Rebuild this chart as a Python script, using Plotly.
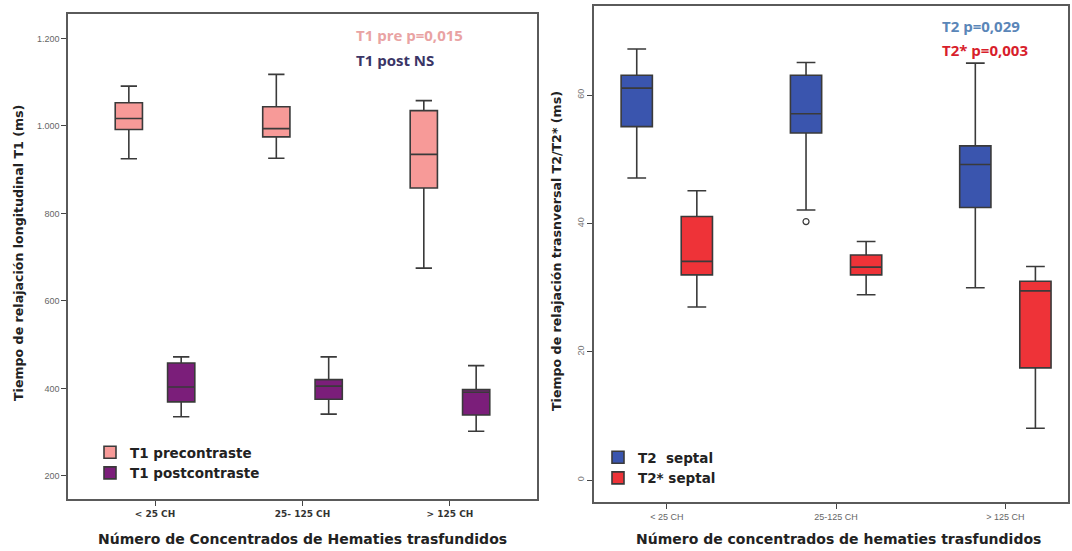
import plotly.graph_objects as go

# ---------------- data ----------------
cats_t1 = ["< 25 CH", "25- 125 CH", "> 125 CH"]
cats_t2 = ["< 25 CH", "25-125 CH", "> 125 CH"]

t1pre_low = [925, 926, 675]
t1pre_q1 = [992, 975, 858]
t1pre_med = [1017, 994, 935]
t1pre_q3 = [1053, 1044, 1035]
t1pre_high = [1091, 1118, 1058]

t1post_low = [335, 341, 302]
t1post_q1 = [369, 375, 339]
t1post_med = [403, 405, 391]
t1post_q3 = [458, 420, 397]
t1post_high = [472, 472, 452]

t2_low = [47.1, 42.1, 30.0]
t2_q1 = [55.1, 54.1, 42.5]
t2_med = [61.1, 57.1, 49.2]
t2_q3 = [63.1, 63.1, 52.1]
t2_high = [67.2, 65.1, 65.0]
t2_outliers = [[None], [40.3], [None]]

t2s_low = [27.0, 28.9, 8.1]
t2s_q1 = [32.0, 32.0, 17.5]
t2s_med = [34.1, 33.2, 29.5]
t2s_q3 = [41.1, 35.1, 31.0]
t2s_high = [45.1, 37.2, 33.3]

t1_tickvals = [200, 400, 600, 800, 1000, 1200]
t1_ticktext = ["200", "400", "600", "800", "1.000", "1.200"]
t2_tickvals = [0, 20, 40, 60]

W, H = 1072, 551
LINE = "#3a3a3a"
FONT = "DejaVu Sans"

fig = go.Figure()

def add_box(x, low, q1, med, q3, high, name, fill, xa, ya, legend, og, y=None):
    if y is not None:
        kw = dict(y=y, boxpoints="outliers",
                  marker=dict(symbol="circle-open", color=LINE, size=6,
                              line=dict(color=LINE, width=1.2)))
    else:
        kw = dict(boxpoints=False)
    fig.add_trace(go.Box(
        x=x, q1=q1, median=med, q3=q3, lowerfence=low, upperfence=high,
        orientation="v",
        name=name, fillcolor=fill, line=dict(color=LINE, width=1.6),
        whiskerwidth=0.6, xaxis=xa, yaxis=ya, legend=legend,
        offsetgroup=og, alignmentgroup=xa, hoverinfo="skip", **kw))

add_box(cats_t1, t1pre_low, t1pre_q1, t1pre_med, t1pre_q3, t1pre_high,
        "T1 precontraste", "#F79A98", "x", "y", "legend", "a")
add_box(cats_t1, t1post_low, t1post_q1, t1post_med, t1post_q3, t1post_high,
        "T1 postcontraste", "#7B1E7A", "x", "y", "legend", "b")
add_box(cats_t2, t2_low, t2_q1, t2_med, t2_q3, t2_high,
        "T2  septal", "#3A55AE", "x2", "y2", "legend2", "c", y=t2_outliers)
add_box(cats_t2, t2s_low, t2s_q1, t2s_med, t2s_q3, t2s_high,
        "T2* septal", "#EE3338", "x2", "y2", "legend2", "d")

def px(x):
    return x / W

def py(y):
    return 1 - y / H

axis_common = dict(showline=True, mirror=True, linecolor="#5a5a5a", linewidth=1.5,
                   ticks="outside", ticklen=5, tickcolor="#444", tickwidth=1.2,
                   showgrid=False, zeroline=False, fixedrange=True)

fig.update_layout(
    width=W, height=H,
    margin=dict(l=0, r=0, t=0, b=0),
    paper_bgcolor="white", plot_bgcolor="white",
    boxmode="group", boxgap=0.29, boxgroupgap=0.48,
    showlegend=True,
    xaxis=dict(domain=[px(68), px(537)], anchor="y", type="category",
               range=[-0.59, 2.59],
               tickfont=dict(family=FONT, size=9, color="#333", weight="bold"),
               **axis_common),
    yaxis=dict(domain=[py(499), py(14)], anchor="x", range=[147, 1256],
               tickvals=t1_tickvals, ticktext=t1_ticktext,
               tickfont=dict(family="Liberation Sans", size=9, color="#666"),
               **axis_common),
    xaxis2=dict(domain=[px(594), px(1068)], anchor="y2", type="category",
                range=[-0.43, 2.37],
                tickfont=dict(family="Liberation Sans", size=9, color="#666"),
                **axis_common),
    yaxis2=dict(domain=[py(502), py(6)], anchor="x2", range=[-3.4, 73.9],
                tickvals=t2_tickvals, tickangle=-90,
                tickfont=dict(family="Liberation Sans", size=9, color="#777"),
                **axis_common),
    legend=dict(x=px(90), y=py(437), xanchor="left", yanchor="top",
                bgcolor="rgba(0,0,0,0)", tracegroupgap=0,
                font=dict(family=FONT, size=13.5, color="#222", weight="bold")),
    legend2=dict(x=px(598), y=py(442), xanchor="left", yanchor="top",
                 bgcolor="rgba(0,0,0,0)", tracegroupgap=0,
                 font=dict(family=FONT, size=13.5, color="#222", weight="bold")),
)

ann_font = dict(family="Open Sans", size=15, weight="bold")
annotations = [
    dict(text="T1 pre p=0,015", x=px(354), y=py(35), font=dict(ann_font, color="#E9A3A3")),
    dict(text="T1 post NS", x=px(354), y=py(60), font=dict(ann_font, color="#3B3566")),
    dict(text="T2 p=0,029", x=px(940), y=py(26), font=dict(ann_font, color="#5A86B8")),
    dict(text="T2* p=0,003", x=px(940), y=py(50), font=dict(ann_font, color="#D81E2C")),
]
for a in annotations:
    fig.add_annotation(xref="paper", yref="paper", xanchor="left", yanchor="middle",
                       showarrow=False, **a)

title_font = dict(family=FONT, size=14, color="#222", weight="bold")
fig.add_annotation(text="Número de Concentrados de Hematies trasfundidos",
                   xref="paper", yref="paper", x=px(302), y=py(539),
                   xanchor="center", yanchor="middle", showarrow=False, font=title_font)
fig.add_annotation(text="Número de concentrados de hematies trasfundidos",
                   xref="paper", yref="paper", x=px(838), y=py(539),
                   xanchor="center", yanchor="middle", showarrow=False, font=title_font)
ytitle_font = dict(family=FONT, size=12.6, color="#222", weight="bold")
fig.add_annotation(text="Tiempo de relajación longitudinal T1 (ms)",
                   xref="paper", yref="paper", x=px(18), y=py(253), textangle=-90,
                   xanchor="center", yanchor="middle", showarrow=False, font=ytitle_font)
fig.add_annotation(text="Tiempo de relajación trasnversal T2/T2* (ms)",
                   xref="paper", yref="paper", x=px(556), y=py(251), textangle=-90,
                   xanchor="center", yanchor="middle", showarrow=False, font=ytitle_font)

fig.write_html("out.html", config={"displayModeBar": False},
               post_script="document.body.style.margin='0';")
